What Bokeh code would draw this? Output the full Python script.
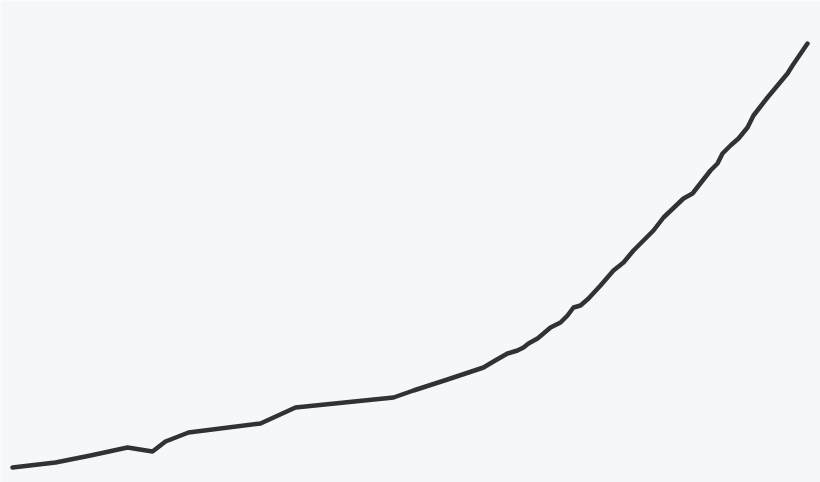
from bokeh.plotting import figure
from bokeh.models import Range1d
from bokeh.embed import file_html
from bokeh.resources import INLINE

# Series values (arbitrary units)
x_values = [4, 47, 82, 119, 144, 157, 180, 252, 287, 385, 405, 439, 475, 485,
            499, 509, 515, 520, 529, 535, 542, 552, 559, 565, 572, 580, 592,
            605, 615, 625, 645, 655, 675, 684, 702, 709, 714, 722, 730, 739,
            745, 759, 769, 779, 784, 799]
y_values = [7, 12, 19, 27, 23, 33, 42, 51, 67, 77, 84, 95, 107, 113,
            121, 124, 127, 131, 136, 141, 147, 152, 159, 167, 169, 176, 189,
            204, 212, 224, 244, 257, 276, 281, 304, 311, 321, 329, 336, 347,
            359, 377, 389, 401, 409, 431]

BG = "#f6f7f8"

p = figure(width=820, height=482, output_backend="svg", toolbar_location=None,
           x_range=Range1d(-8, 812), y_range=Range1d(-8, 474),
           min_border=0, min_border_left=0, min_border_right=0,
           min_border_top=0, min_border_bottom=0)
p.axis.visible = False
p.grid.visible = False
p.outline_line_color = None
p.background_fill_color = BG
p.border_fill_color = BG

p.line(x_values, y_values, line_color="#303336", line_width=4.5,
       line_cap="round", line_join="round")

html = file_html(p, INLINE)
html = html.replace("<body>", '<body style="background:%s;margin:0;">' % BG, 1)
open("out.html", "w").write(html)
